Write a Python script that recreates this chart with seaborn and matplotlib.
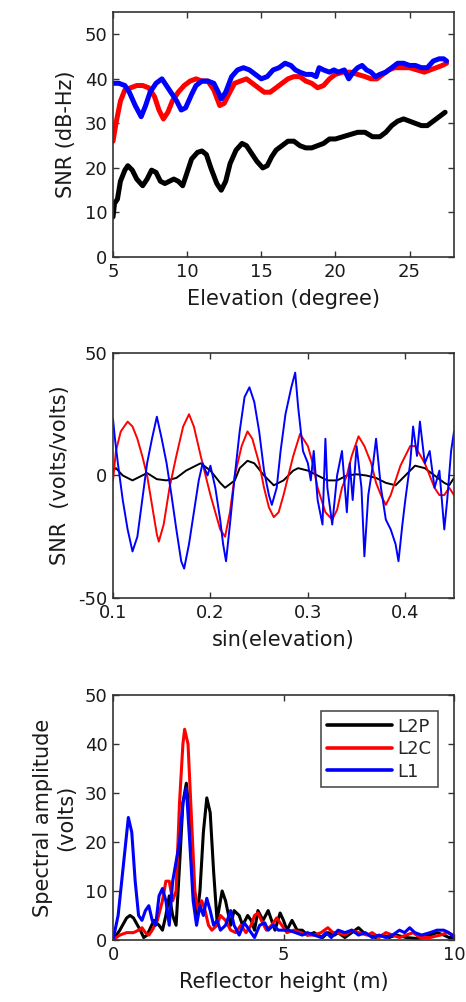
import numpy as np
import pandas as pd
import matplotlib
matplotlib.use("Agg")
import matplotlib.pyplot as plt
import seaborn as sns

# ---------------- Panel 1: SNR vs elevation ----------------
elev_black = [5.0, 5.1, 5.3, 5.5, 5.8, 6.0, 6.3, 6.6, 7.0, 7.3, 7.6, 7.9, 8.2, 8.5, 8.8, 9.1, 9.4, 9.7,
              10.0, 10.3, 10.7, 11.0, 11.3, 11.6, 12.0, 12.3, 12.6, 12.9, 13.3, 13.7, 14.0, 14.3, 14.7,
              15.1, 15.4, 15.7, 16.0, 16.4, 16.8, 17.2, 17.6, 18.0, 18.4, 18.8, 19.2, 19.6, 20.0, 20.5,
              21.0, 21.5, 22.0, 22.5, 23.0, 23.4, 23.8, 24.2, 24.6, 25.0, 25.4, 25.8, 26.2, 26.6, 27.0, 27.4]
snr_black = [9, 12, 13, 17, 19.5, 20.5, 19.5, 17.5, 16, 17.5, 19.5, 19.0, 17, 16.5, 17, 17.5, 17, 16,
             19, 22, 23.5, 23.8, 23, 20, 16.5, 15, 17, 21, 24, 25.5, 25, 23.5, 21.5,
             20, 20.5, 22.5, 24, 25, 26, 26, 25, 24.5, 24.5, 25, 25.5, 26.5, 26.5, 27,
             27.5, 28, 28, 27, 27, 28, 29.5, 30.5, 31, 30.5, 30, 29.5, 29.5, 30.5, 31.5, 32.5]

elev_red = [5.0, 5.2, 5.5, 5.8, 6.2, 6.6, 7.0, 7.4, 7.8, 8.1, 8.4, 8.7, 9.0, 9.4, 9.8, 10.2, 10.6, 11.0,
            11.4, 11.8, 12.2, 12.5, 12.8, 13.2, 13.6, 14.0, 14.4, 14.8, 15.2, 15.6, 16.0, 16.4, 16.8,
            17.2, 17.6, 18.0, 18.4, 18.8, 19.2, 19.6, 20.0, 20.5, 21.0, 21.5, 22.0, 22.4, 22.8, 23.2,
            23.6, 24.0, 24.5, 25.0, 25.5, 26.0, 26.4, 26.8, 27.2, 27.5]
snr_red = [26, 30, 35, 37.5, 38, 38.5, 38.5, 38, 36, 33, 31, 32.5, 35, 37, 38.5, 39.5, 40, 39.5,
           39.5, 37.5, 34, 34.5, 36.5, 39, 39.5, 40, 39, 38, 37, 37, 38, 39, 40,
           40.5, 40.5, 39.5, 39, 38, 38.5, 40, 41, 41.5, 41.5, 41, 40.5, 40, 40, 41,
           42, 42.5, 42.5, 42.5, 42, 41.5, 42, 42.5, 43, 43.5]

elev_blue = [5.0, 5.4, 5.8, 6.1, 6.5, 6.9, 7.2, 7.5, 7.9, 8.3, 8.6, 9.0, 9.3, 9.6, 9.9, 10.3, 10.6, 11.0,
             11.4, 11.8, 12.1, 12.3, 12.6, 13.0, 13.4, 13.8, 14.2, 14.6, 15.0, 15.4, 15.8, 16.2, 16.6,
             17.0, 17.3, 17.6, 18.0, 18.4, 18.7, 18.9, 19.2, 19.6, 19.9, 20.2, 20.6, 20.9, 21.2, 21.5,
             21.8, 22.1, 22.4, 22.7, 23.0, 23.4, 23.8, 24.2, 24.6, 25.0, 25.4, 25.8, 26.2, 26.6, 27.0,
             27.3, 27.5]
snr_blue = [39, 39, 38.5, 37, 34, 31.5, 34, 37, 39, 40, 38.5, 36.5, 35, 33, 33.5, 36.5, 38.5, 39.5,
            39.5, 39, 37, 35.5, 37, 40.5, 42, 42.5, 42, 41, 40, 40.5, 42, 42.5, 43.5,
            43, 42, 41.5, 41, 41, 40.5, 42.5, 42, 41.5, 42, 41.5, 42, 40, 41.5, 42.5,
            43, 42, 41.5, 40.5, 41, 41.5, 42.5, 43.5, 43.5, 43, 43, 42.5, 42.5, 44, 44.5,
            44.5, 44]

# ---------------- Panel 2: detrended SNR vs sin(elevation) ----------------
sin_black = [0.100, 0.103, 0.110, 0.120, 0.130, 0.135, 0.145, 0.155, 0.165, 0.175, 0.190, 0.200, 0.210,
             0.215, 0.225, 0.230, 0.238, 0.245, 0.255, 0.265, 0.275, 0.285, 0.290, 0.300, 0.310, 0.320,
             0.330, 0.340, 0.350, 0.360, 0.370, 0.380, 0.390, 0.400, 0.410, 0.420, 0.430, 0.440, 0.445, 0.450]
det_black = [2, 3, 0, -2, 0, 1, -1.5, -2, -1, 2, 5, 2, -3,
             -5, -2, 3, 6, 5, 0, -4, -2, 2, 3, 2, 0, -2,
             -2, 0, 0.5, 0, -1, -3, -4, 0, 4, 3, 0, -3, -4, -1]

sin_red = [0.100, 0.103, 0.108, 0.115, 0.120, 0.125, 0.130, 0.135, 0.140, 0.145, 0.147, 0.152, 0.158,
           0.165, 0.172, 0.178, 0.183, 0.190, 0.200, 0.205, 0.210, 0.215, 0.220, 0.225, 0.232, 0.238,
           0.243, 0.250, 0.255, 0.260, 0.265, 0.270, 0.275, 0.280, 0.285, 0.292, 0.300, 0.305, 0.310,
           0.318, 0.325, 0.330, 0.335, 0.340, 0.345, 0.352, 0.358, 0.365, 0.370, 0.375, 0.380, 0.385,
           0.390, 0.395, 0.405, 0.410, 0.420, 0.430, 0.435, 0.440, 0.445, 0.450]
det_red = [-2, 10, 18, 22, 20, 15, 8, 0, -12, -24, -27, -20, -5,
           8, 20, 25, 20, 8, -8, -15, -22, -25, -15, 0, 12, 18,
           15, 5, -5, -13, -17, -15, -8, 0, 8, 17, 12, 5, -5,
           -15, -18, -14, -5, 0, 8, 16, 12, 5, -3, -8, -12, -8,
           -2, 4, 12, 12, 5, -5, -8, -8, -5, -8]

sin_blue = [0.100, 0.102, 0.105, 0.110, 0.115, 0.120, 0.125, 0.130, 0.135, 0.140, 0.145, 0.150, 0.155,
            0.160, 0.165, 0.170, 0.173, 0.178, 0.183, 0.188, 0.192, 0.197, 0.200, 0.205, 0.210, 0.213,
            0.216, 0.220, 0.225, 0.230, 0.235, 0.240, 0.245, 0.250, 0.255, 0.260, 0.263, 0.268, 0.272,
            0.277, 0.283, 0.287, 0.290, 0.295, 0.300, 0.303, 0.306, 0.310, 0.315, 0.318, 0.320, 0.325,
            0.330, 0.335, 0.340, 0.343, 0.346, 0.350, 0.355, 0.358, 0.362, 0.367, 0.370, 0.375, 0.380,
            0.385, 0.390, 0.393, 0.397, 0.400, 0.405, 0.408, 0.412, 0.415, 0.420, 0.425, 0.430, 0.435,
            0.440, 0.443, 0.447, 0.450]
det_blue = [23, 15, 5, -10, -22, -31, -25, -10, 5, 15, 24, 15, 5,
            -8, -22, -35, -38, -28, -15, -2, 5, 0, 4, -5, -18, -28,
            -35, -20, 0, 18, 32, 36, 30, 18, 2, -8, -12, -5, 10,
            25, 36, 42, 28, 10, 5, -2, 10, -10, -20, 15, -5, -20,
            0, 10, -15, 5, -10, 12, -5, -33, -8, 5, 15, -5, -18,
            -22, -28, -35, -20, -10, 5, 20, 8, 22, 5, 10, -5, 2,
            -22, -10, 10, 18]

# ---------------- Panel 3: spectral amplitude vs reflector height ----------------
h_l2p = [0, 0.2, 0.4, 0.5, 0.6, 0.8, 0.9, 1.0, 1.2, 1.35, 1.45, 1.55, 1.65, 1.75, 1.85, 1.95, 2.05, 2.15,
         2.25, 2.35, 2.45, 2.55, 2.65, 2.75, 2.85, 2.95, 3.05, 3.2, 3.3, 3.45, 3.55, 3.7, 3.8, 3.95, 4.05,
         4.15, 4.25, 4.4, 4.55, 4.65, 4.75, 4.9, 5.0, 5.1, 5.25, 5.4, 5.55, 5.7, 5.9, 6.0, 6.15, 6.3, 6.5,
         6.6, 6.8, 7.0, 7.2, 7.35, 7.5, 7.7, 7.9, 8.1, 8.3, 8.6, 8.9, 9.1, 9.3, 9.5, 9.7, 9.85, 10.0]
amp_l2p = [0, 2, 4.5, 5, 4.5, 2, 0.5, 1, 4, 3, 2, 5, 9, 5, 3, 15, 28, 32,
           25, 12, 4, 10, 22, 29, 26, 14, 4, 10, 8, 3, 6, 5, 3, 5, 4,
           2, 6, 4, 6, 4, 2, 5.5, 4, 2, 4, 2, 2, 1, 1.5, 1, 0.5, 1.5, 1,
           1.5, 0.5, 1.5, 2.5, 1.5, 1, 0.5, 1, 0.5, 1, 0.5, 0.3, 0.5, 1, 1.5, 1, 0.5, 0.5]

h_l2c = [0, 0.2, 0.4, 0.6, 0.75, 0.85, 0.95, 1.05, 1.15, 1.3, 1.45, 1.55, 1.65, 1.75, 1.85, 1.95, 2.05,
         2.1, 2.2, 2.3, 2.4, 2.5, 2.6, 2.7, 2.8, 2.9, 3.05, 3.15, 3.3, 3.45, 3.6, 3.75, 3.9, 4.05, 4.15,
         4.25, 4.35, 4.5, 4.65, 4.8, 4.95, 5.1, 5.3, 5.5, 5.7, 5.9, 6.1, 6.3, 6.45, 6.6, 6.8, 7.0, 7.2,
         7.45, 7.6, 7.8, 8.0, 8.2, 8.4, 8.6, 8.8, 9.0, 9.3, 9.6, 9.8, 10.0]
amp_l2c = [0, 1, 1.5, 1.5, 2, 2.5, 1.5, 1, 2, 4, 8, 12, 12, 8, 10, 28, 40,
           43, 40, 25, 10, 6, 8, 6, 3, 2, 3, 5, 4, 2, 1.5, 3, 1.5, 3, 5,
           5.5, 4, 2, 3, 4.5, 3, 1.5, 2, 1.5, 1, 1, 1.5, 2.5, 1.5, 1.5, 1, 2, 1.5,
           1, 1.5, 0.5, 1.5, 1, 0.5, 1, 1.5, 0.5, 0.5, 1, 1.5, 1]

h_l1 = [0, 0.15, 0.3, 0.45, 0.55, 0.65, 0.75, 0.85, 0.95, 1.05, 1.15, 1.25, 1.35, 1.45, 1.55, 1.65, 1.75,
        1.85, 1.95, 2.05, 2.15, 2.25, 2.35, 2.45, 2.55, 2.65, 2.75, 2.85, 2.95, 3.05, 3.15, 3.3, 3.45,
        3.55, 3.7, 3.85, 4.0, 4.15, 4.3, 4.45, 4.55, 4.7, 4.85, 5.0, 5.15, 5.35, 5.55, 5.7, 5.9, 6.1,
        6.25, 6.4, 6.6, 6.8, 7.0, 7.2, 7.4, 7.6, 7.8, 8.0, 8.2, 8.4, 8.55, 8.7, 8.85, 9.05, 9.3, 9.5,
        9.7, 9.85, 10.0]
amp_l1 = [0, 5, 15, 25, 22, 12, 5, 4, 6, 7, 4, 3, 9, 10.5, 8, 3, 12,
          16, 20, 28, 31, 20, 8, 3, 7, 5, 8.5, 6, 3, 4, 2, 3, 6,
          3, 1, 3.5, 2, 0.5, 3, 3.5, 2, 3, 2, 2, 2, 1.5, 1, 1.5, 1, 0.5,
          1.5, 0.5, 2, 1.5, 2, 1, 1.5, 0.5, 1, 0.5, 1, 2, 1.5, 2.5, 1.5, 1, 1.5, 2,
          2, 1.5, 0.5]

legend_labels = ["L2P", "L2C", "L1"]
colors = ["#000000", "#ff0000", "#0000ff"]

sns.set_theme(style="white")
plt.rcParams["font.family"] = ["DejaVu Sans"]
plt.rcParams["axes.unicode_minus"] = False
plt.rcParams["axes.edgecolor"] = "#333333"
plt.rcParams["axes.linewidth"] = 1.2

fig = plt.figure(figsize=(4.66, 10.02), dpi=100)
ax1 = fig.add_axes([0.2425, 0.7435, 0.7318, 0.2445])
ax2 = fig.add_axes([0.2425, 0.4032, 0.7318, 0.2445])
ax3 = fig.add_axes([0.2425, 0.0619, 0.7318, 0.2445])


def draw(ax, xs, ys, lw, labels=None):
    for i, (x, y) in enumerate(zip(xs, ys)):
        df = pd.DataFrame({"x": x, "y": y})
        sns.lineplot(data=df, x="x", y="y", ax=ax, color=colors[i], lw=lw,
                     estimator=None, sort=False,
                     label=(labels[i] if labels else None), legend=bool(labels))


draw(ax1, [elev_black, elev_red, elev_blue], [snr_black, snr_red, snr_blue], 3.6)
draw(ax2, [sin_black, sin_red, sin_blue], [det_black, det_red, det_blue], 1.4)
draw(ax3, [h_l2p, h_l2c, h_l1], [amp_l2p, amp_l2c, amp_l1], 2.2, legend_labels)

for ax in (ax1, ax2, ax3):
    ax.tick_params(direction="in", top=True, right=True, length=4, width=1,
                   colors="#333333", labelcolor="#1a1a1a", labelsize=13, pad=4,
                   bottom=True, left=True)
    for s in ax.spines.values():
        s.set_visible(True)
        s.set_color("#333333")

ax1.set_xlim(5, 28)
ax1.set_ylim(0, 55)
ax1.set_xticks([5, 10, 15, 20, 25])
ax1.set_yticks([0, 10, 20, 30, 40, 50])
ax1.set_xlabel("Elevation (degree)", fontsize=15, color="#1a1a1a", labelpad=6)
ax1.set_ylabel("SNR (dB-Hz)", fontsize=15, color="#1a1a1a", labelpad=6)

ax2.set_xlim(0.1, 0.45)
ax2.set_ylim(-50, 50)
ax2.set_xticks([0.1, 0.2, 0.3, 0.4])
ax2.set_xticklabels(["0.1", "0.2", "0.3", "0.4"])
ax2.set_yticks([-50, 0, 50])
ax2.set_xlabel("sin(elevation)", fontsize=15, color="#1a1a1a", labelpad=6)
ax2.set_ylabel("SNR  (volts/volts)", fontsize=15, color="#1a1a1a", labelpad=6)

ax3.set_xlim(0, 10)
ax3.set_ylim(0, 50)
ax3.set_xticks([0, 5, 10])
ax3.set_yticks([0, 10, 20, 30, 40, 50])
ax3.set_xlabel("Reflector height (m)", fontsize=15, color="#1a1a1a", labelpad=6)
ax3.set_ylabel("Spectral amplitude\n(volts)", fontsize=15, color="#1a1a1a", labelpad=6)

leg = ax3.legend(loc="upper right", fontsize=13, frameon=True, fancybox=False,
                 edgecolor="#222222", handlelength=3.6, handletextpad=0.3,
                 borderaxespad=0.9, labelspacing=0.25, borderpad=0.35)
leg.get_frame().set_linewidth(1.2)
for line in leg.get_lines():
    line.set_linewidth(2.6)

fig.savefig("out.png", dpi=100)
